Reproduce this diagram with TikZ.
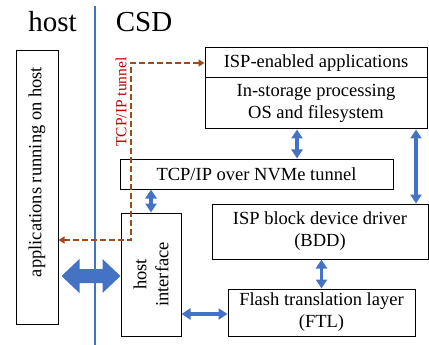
\documentclass[tikz,border=0pt]{standalone}
\usepackage{fontspec}
\setmainfont{Liberation Serif}
\usetikzlibrary{arrows.meta}

\definecolor{linkblue}{HTML}{4472C4}
\definecolor{tunnelbrown}{HTML}{9E4A1A}
\definecolor{tunnelred}{HTML}{C00000}

\tikzset{
  box/.style={draw, line width=1pt, inner sep=0pt, align=center,
    font=\fontsize{18.5}{22}\selectfont},
  link/.style={linkblue, line width=3.5pt,
    {Triangle[width=11pt,length=9pt]}-{Triangle[width=11pt,length=9pt]}},
  tunnel/.style={tunnelbrown, line width=2pt, dash pattern=on 6pt off 3pt,
    {Triangle[width=7pt,length=6pt]}-{Triangle[width=7pt,length=6pt]}},
  side/.style={anchor=base, font=\fontsize{29}{32}\selectfont}
}

\begin{document}
\begin{tikzpicture}[x=1pt,y=-1pt]
  \useasboundingbox (0,0) rectangle (429,345);

  \draw [linkblue, line width=2.5pt] (95,6) -- (95,345);
  \node [side] (hostlbl) at (52.5,32) {host};
  \node [side] (csdlbl) at (144,32) {CSD};

  % boxes
  \node [box, minimum width=42pt, minimum height=273pt] (app) at (37,187.5) {};
  \node [rotate=90, font=\fontsize{18.5}{22}\selectfont] (applbl) at (37,172) {applications running on host};
  \node [box, minimum width=222pt, minimum height=30pt] (ispapp) at (316,63) {ISP-enabled applications};
  \node [box, minimum width=222pt, minimum height=51pt] (ispos) at (316,103.5) {In-storage processing\\OS and filesystem};
  \node [box, minimum width=273pt, minimum height=30pt] (tcp) at (256.5,174) {TCP/IP over NVMe tunnel};
  \node [box, minimum width=123pt, minimum height=60pt, rotate=90] (hif) at (151,274.5) {host\\interface};
  \node [box, minimum width=216pt, minimum height=55pt] (bdd) at (320,231.5) {ISP block device driver\\(BDD)};
  \node [box, minimum width=187pt, minimum height=47pt] (ftl) at (321.5,312.5) {Flash translation layer\\(FTL)};

  % links
  \draw [link] ([xshift=-19pt]ispos.south) -- ([xshift=-19pt]ispos.south |- tcp.north);
  \draw [link] ([xshift=100pt]ispos.south) -- ([xshift=100pt]ispos.south |- bdd.north);
  \draw [link] (hif.east |- tcp.south) -- (hif.east);
  \draw [link] (ftl.north |- bdd.south) -- (ftl.north);
  \draw [link] ([yshift=-39.5pt]hif.south) -- ([yshift=-39.5pt]hif.south -| ftl.west);

  % big host link
  \fill [linkblue] ([yshift=-1.5pt]hif.north) -- ++(-18,-17) -- ++(0,10) -- ++(-23,0) -- ++(0,-10)
    -- ++(-18,17) -- ++(18,17) -- ++(0,-10) -- ++(23,0) -- ++(0,10) -- cycle;

  % tunnel
  \coordinate (bend) at (131,240);
  \draw [tunnel] (app.east |- bend) -| (bend |- ispapp.west) -- (ispapp.west);
  \node [rotate=90, text=tunnelred, font=\fontsize{15.5}{18}\selectfont] (tunlbl) at (121,102) {TCP/IP tunnel};
\end{tikzpicture}
\end{document}
